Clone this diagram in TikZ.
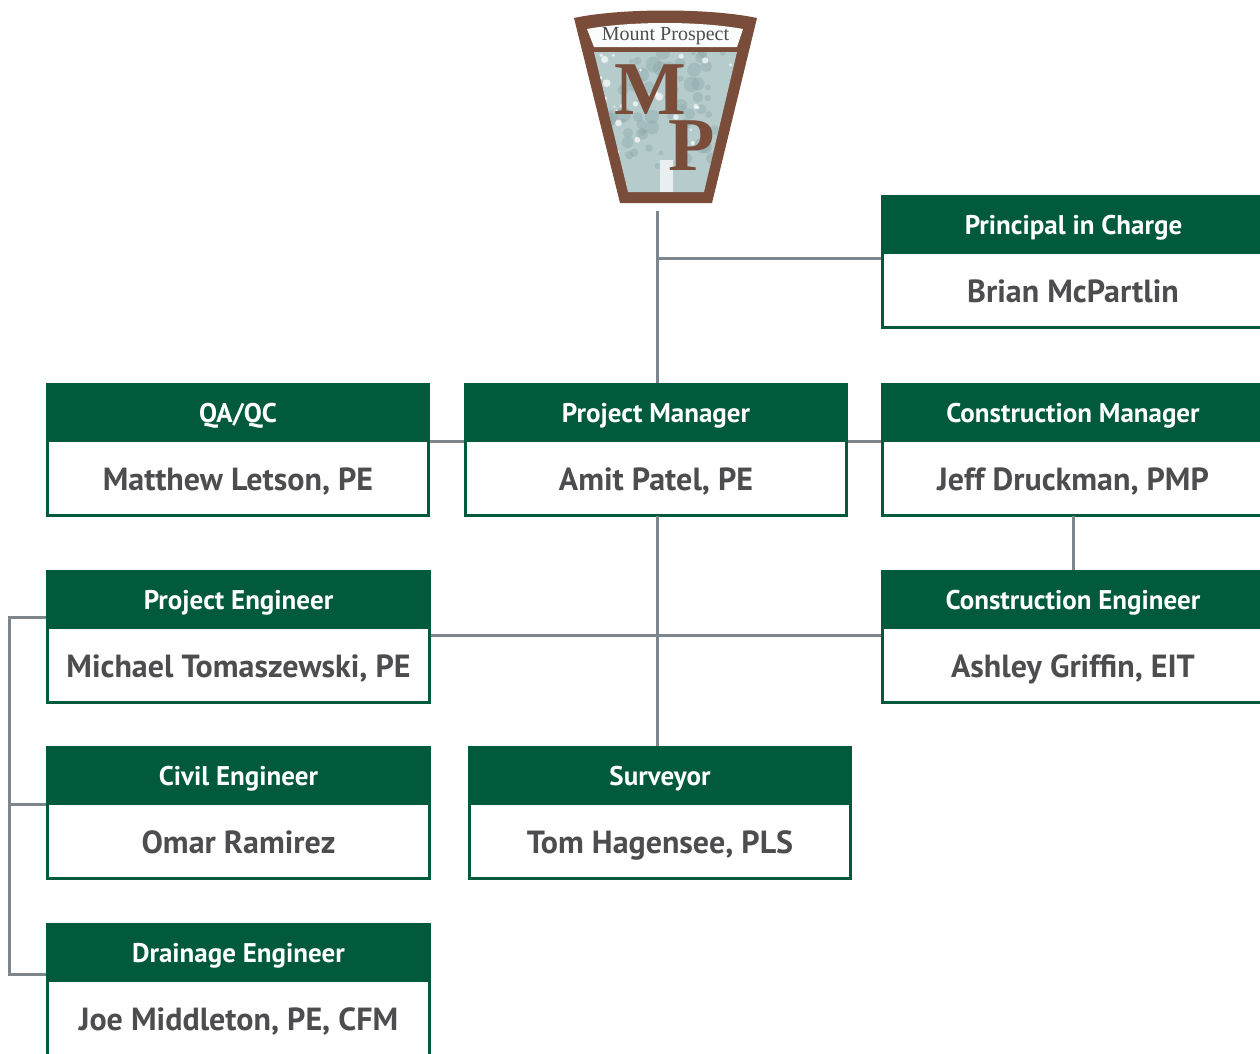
\documentclass[tikz,border=0pt]{standalone}
\usepackage{fontspec}
\setmainfont{PT Sans}
\newfontfamily\logofont{Liberation Serif}
\definecolor{boxgreen}{HTML}{015A3C}
\definecolor{linegray}{HTML}{7E868D}
\definecolor{namegray}{HTML}{4D4D4F}
\definecolor{logobrown}{HTML}{7A4C3A}
\definecolor{logopanel}{HTML}{B5CBCC}
\definecolor{logoleaf}{HTML}{8FAAAB}
\tikzset{
  headbox/.style={fill=boxgreen, text=white, anchor=north west, minimum height=58pt, inner sep=0pt, outer sep=0pt, text height=20pt, text depth=0pt, font=\fontsize{27}{30}\selectfont\bfseries},
  namebox/.style={draw=boxgreen, line width=3pt, fill=white, text=namegray, anchor=north west, minimum height=75pt, inner sep=0pt, outer sep=0pt, text height=24pt, text depth=0pt, font=\fontsize{32}{36}\selectfont\bfseries},
  link/.style={draw=linegray, line width=3pt},
  logotext/.style={inner sep=0pt, font=\logofont\fontsize{76}{76}\selectfont\bfseries, text=logobrown},
}
\begin{document}
\begin{tikzpicture}[x=1pt, y=-1pt]
\clip (0,0) rectangle (1260,1053);
\fill[white] (0,0) rectangle (1260,1053);

% logo
\fill[logobrown] (574,18) .. controls (620,8) and (710,8) .. (757,18) -- (712,203) -- (620,203) -- cycle;
\fill[white!95!logopanel] (587,29) .. controls (630,21) and (700,21) .. (743,29) -- (737,47) -- (594,47) -- cycle;
\begin{scope}
\clip (594,52) -- (737,52) -- (704,192) -- (628,192) -- cycle;
\fill[logopanel] (590,50) rectangle (740,195);
\pgfmathsetseed{11}
\foreach \spot in {1,...,70}
  \fill[logoleaf, opacity=0.45] ({595+rnd*140},{52+rnd*115}) circle ({2+rnd*6});
\foreach \spot in {1,...,30}
  \fill[white, opacity=0.7] ({600+rnd*135},{55+rnd*100}) circle ({1+rnd*3});
\fill[white!70!logopanel] (660,160) rectangle (673,192);
\end{scope}
\node[text=namegray, inner sep=0pt, font=\logofont\fontsize{20}{22}\selectfont] (logoname) at (665.5,36) {Mount Prospect};
\node[logotext] (logom) at (650,90) {M};
\node[logotext] (logop) at (692,146) {P};

% boxes
\node[namebox, minimum width=381pt] (brian) at (882.5,252.5) {Brian McPartlin};
\node[headbox, minimum width=385pt] (charge) at (881,195) {Principal in Charge};

\node[namebox, minimum width=381pt] (matthew) at (47.5,440.5) {Matthew Letson, PE};
\node[headbox, minimum width=384pt] (qaqc) at (46,383) {QA/QC};

\node[namebox, minimum width=381pt] (amit) at (465.5,440.5) {Amit Patel, PE};
\node[headbox, minimum width=384pt] (pm) at (464,383) {Project Manager};

\node[namebox, minimum width=381pt] (jeff) at (882.5,440.5) {Jeff Druckman, PMP};
\node[headbox, minimum width=384pt] (cm) at (881,383) {Construction Manager};

\node[namebox, minimum width=382pt] (michael) at (47.5,627.5) {Michael Tomaszewski, PE};
\node[headbox, minimum width=385pt] (proj) at (46,570) {Project Engineer};

\node[namebox, minimum width=381pt] (ashley) at (882.5,627.5) {Ashley Griffin, EIT};
\node[headbox, minimum width=384pt] (ce) at (881,570) {Construction Engineer};

\node[namebox, minimum width=382pt] (omar) at (47.5,803.5) {Omar Ramirez};
\node[headbox, minimum width=385pt] (civil) at (46,746) {Civil Engineer};

\node[namebox, minimum width=381pt] (tom) at (469.5,803.5) {Tom Hagensee, PLS};
\node[headbox, minimum width=384pt] (survey) at (468,746) {Surveyor};

\node[namebox, minimum width=382pt] (joe) at (47.5,980.5) {Joe Middleton, PE, CFM};
\node[headbox, minimum width=385pt] (drain) at (46,923) {Drainage Engineer};

% connectors
\coordinate (logofoot) at (657,211);
\coordinate (chargejoin) at (657,258);
\coordinate (crossjoin) at (657,635);
\coordinate (railtop) at (9,617);
\coordinate (railmid) at (9,804);
\coordinate (railfoot) at (9,974);

\draw[link] (logofoot) -- (logofoot|-pm.north);
\draw[link] (chargejoin) -- (chargejoin-|charge.west);
\draw[link] (logofoot|-amit.south) -- (logofoot|-survey.north);
\draw[link] (crossjoin-|proj.east) -- (crossjoin-|ce.west);
\draw[link] (qaqc.south east) -- (pm.south west);
\draw[link] (pm.south east) -- (cm.south west);
\draw[link] (jeff.south) -- (ce.north);
\draw[link] (railtop-|proj.west) -- (railtop) -- (railfoot) -- (railfoot-|drain.west);
\draw[link] (railmid) -- (railmid-|civil.west);
\end{tikzpicture}
\end{document}
